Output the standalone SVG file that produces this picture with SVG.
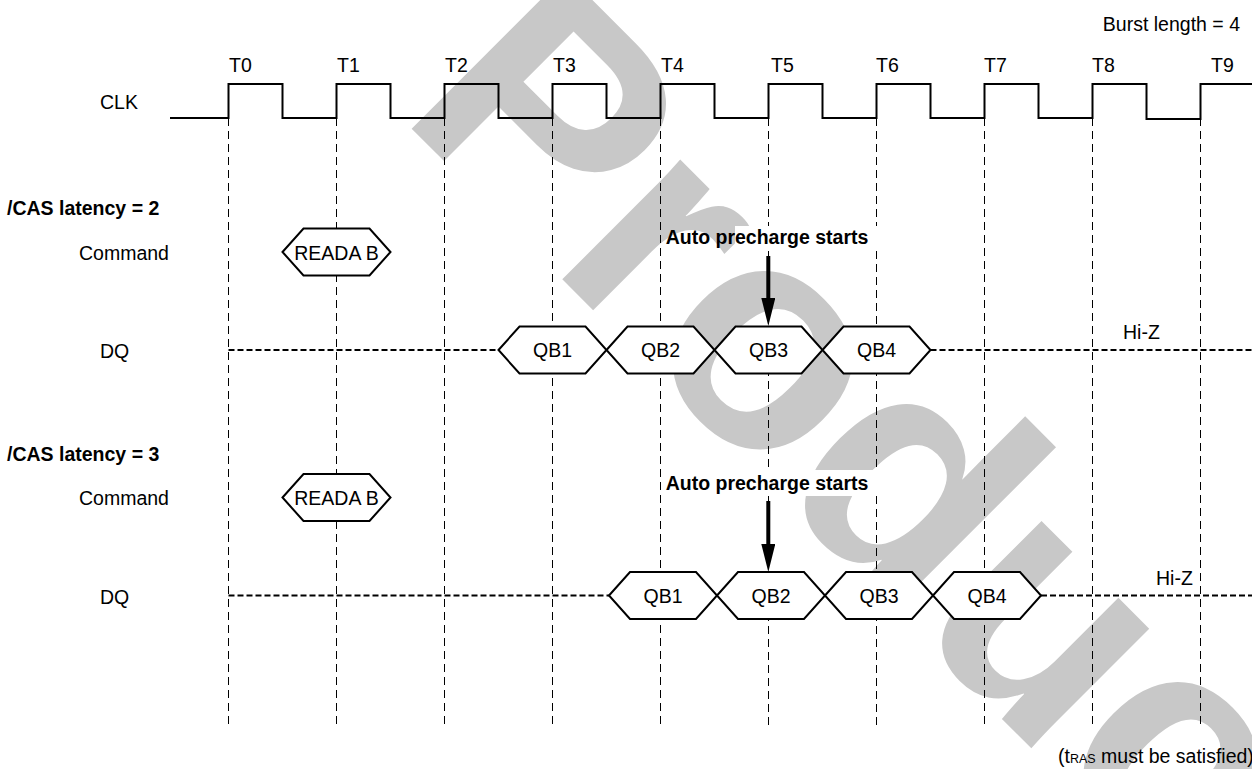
<svg xmlns="http://www.w3.org/2000/svg" xmlns:xlink="http://www.w3.org/1999/xlink" width="1252" height="769" viewBox="0 0 1252 769">
<style>
  text { font-family: "Liberation Sans", Arial, sans-serif; font-size: 19.5px; fill: #000; }
  .b { font-weight: bold; }
  .mid { text-anchor: middle; }
  .end { text-anchor: end; }
  .wm { font-size: 318px; font-weight: bold; fill: #c8c8c8; }
  .clk { fill: none; stroke: #000; stroke-width: 2; }
  .grid { stroke: #000; stroke-width: 1; stroke-dasharray: 8 5; }
  .hiz { stroke: #000; stroke-width: 2; stroke-dasharray: 6 3; }
  .hex { fill: #fff; stroke: #000; stroke-width: 2; stroke-linejoin: miter; }
  .arr { stroke: #000; stroke-width: 4; marker-end: url(#ah); }
</style>
<defs>
  <polygon id="hexshape" points="0,0 21,-23.5 87,-23.5 108,0 87,23.5 21,23.5"/>
  <marker id="ah" markerUnits="userSpaceOnUse" markerWidth="28" markerHeight="14" viewBox="0 0 28 14" refX="1" refY="7" orient="auto">
    <path d="M0,0 L28,7 L0,14 Z" fill="#000"/>
  </marker>
</defs>
<rect x="0" y="0" width="1252" height="769" fill="#fff"/>

<g id="watermark">
  <text class="wm" transform="translate(396.6,113.6) rotate(45)">Product</text>
</g>

<g id="label-bg">
  <rect x="735" y="226" width="142" height="25" fill="#fff"/>
  <rect x="735" y="470" width="142" height="26" fill="#fff"/>
</g>

<g id="gridlines">
  <line class="grid" x1="228.5" y1="118" x2="228.5" y2="729"/>
  <line class="grid" x1="336.5" y1="118" x2="336.5" y2="729"/>
  <line class="grid" x1="444.5" y1="118" x2="444.5" y2="729"/>
  <line class="grid" x1="552.5" y1="118" x2="552.5" y2="729"/>
  <line class="grid" x1="660.5" y1="118" x2="660.5" y2="729"/>
  <line class="grid" x1="768.5" y1="118" x2="768.5" y2="226"/>
  <line class="grid" x1="768.5" y1="251" x2="768.5" y2="470"/>
  <line class="grid" x1="768.5" y1="496" x2="768.5" y2="729"/>
  <line class="grid" x1="876.5" y1="118" x2="876.5" y2="226"/>
  <line class="grid" x1="876.5" y1="251" x2="876.5" y2="470"/>
  <line class="grid" x1="876.5" y1="496" x2="876.5" y2="729"/>
  <line class="grid" x1="984.5" y1="118" x2="984.5" y2="729"/>
  <line class="grid" x1="1092.5" y1="118" x2="1092.5" y2="729"/>
  <line class="grid" x1="1200.5" y1="118" x2="1200.5" y2="729"/>
</g>

<g id="clock">
  <text x="100" y="109">CLK</text>
  <path class="clk" d="M170,118 H228.5 V84 H282.5 V118 H336.5 V84 H390.5 V118 H444.5 V84 H498.5 V118 H552.5 V84 H606.5 V118 H660.5 V84 H714.5 V118 H768.5 V84 H822.5 V118 H876.5 V84 H930.5 V118 H984.5 V84 H1038.5 V118 H1092.5 V84 H1146.5 V119 H1200.5 V84 H1252"/>
  <text x="229" y="72">T0</text>
  <text x="337" y="72">T1</text>
  <text x="445" y="72">T2</text>
  <text x="553" y="72">T3</text>
  <text x="661" y="72">T4</text>
  <text x="771" y="72">T5</text>
  <text x="876" y="72">T6</text>
  <text x="984" y="72">T7</text>
  <text x="1092" y="72">T8</text>
  <text x="1211" y="72">T9</text>
  <text class="end" x="1240" y="31">Burst length = 4</text>
</g>

<g id="connectors">
  <line class="hiz" x1="228.5" y1="350" x2="498.5" y2="350"/>
  <line class="hiz" x1="930.5" y1="350" x2="1252" y2="350"/>
  <line class="hiz" x1="228.5" y1="595.5" x2="609" y2="595.5"/>
  <line class="hiz" x1="1041" y1="595.5" x2="1252" y2="595.5"/>
  <line class="arr" x1="768.3" y1="256" x2="768.3" y2="299"/>
  <line class="arr" x1="768.3" y1="501" x2="768.3" y2="545"/>
</g>

<g id="cl2">
  <text class="b" x="7" y="215">/CAS latency = 2</text>
  <text x="79" y="259.5">Command</text>
  <text x="100" y="358">DQ</text>
  <text class="b mid" x="767" y="244">Auto precharge starts</text>
  <text x="1123" y="339">Hi-Z</text>
</g>
<g id="cl2-cmd-reada-b">
  <use xlink:href="#hexshape" class="hex" x="282.5" y="252"/>
  <text class="mid" x="336.5" y="259.5">READA B</text>
</g>
<g id="cl2-qb1">
  <use xlink:href="#hexshape" class="hex" x="498.5" y="350"/>
  <text class="mid" x="552.5" y="357">QB1</text>
</g>
<g id="cl2-qb2">
  <use xlink:href="#hexshape" class="hex" x="606.5" y="350"/>
  <text class="mid" x="660.5" y="357">QB2</text>
</g>
<g id="cl2-qb3">
  <use xlink:href="#hexshape" class="hex" x="714.5" y="350"/>
  <text class="mid" x="768.5" y="357">QB3</text>
</g>
<g id="cl2-qb4">
  <use xlink:href="#hexshape" class="hex" x="822.5" y="350"/>
  <text class="mid" x="876.5" y="357">QB4</text>
</g>

<g id="cl3">
  <text class="b" x="7" y="461">/CAS latency = 3</text>
  <text x="79" y="505">Command</text>
  <text x="100" y="603.5">DQ</text>
  <text class="b mid" x="767" y="489.5">Auto precharge starts</text>
  <text x="1156" y="585">Hi-Z</text>
</g>
<g id="cl3-cmd-reada-b">
  <use xlink:href="#hexshape" class="hex" x="282.5" y="497.5"/>
  <text class="mid" x="336.5" y="505">READA B</text>
</g>
<g id="cl3-qb1">
  <use xlink:href="#hexshape" class="hex" x="609" y="595.5"/>
  <text class="mid" x="663" y="602.5">QB1</text>
</g>
<g id="cl3-qb2">
  <use xlink:href="#hexshape" class="hex" x="717" y="595.5"/>
  <text class="mid" x="771" y="602.5">QB2</text>
</g>
<g id="cl3-qb3">
  <use xlink:href="#hexshape" class="hex" x="825" y="595.5"/>
  <text class="mid" x="879" y="602.5">QB3</text>
</g>
<g id="cl3-qb4">
  <use xlink:href="#hexshape" class="hex" x="933" y="595.5"/>
  <text class="mid" x="987" y="602.5">QB4</text>
</g>

<g id="note">
  <text x="1058" y="763">(t<tspan font-size="12.5">RAS</tspan> must be satisfied)</text>
</g>
</svg>
